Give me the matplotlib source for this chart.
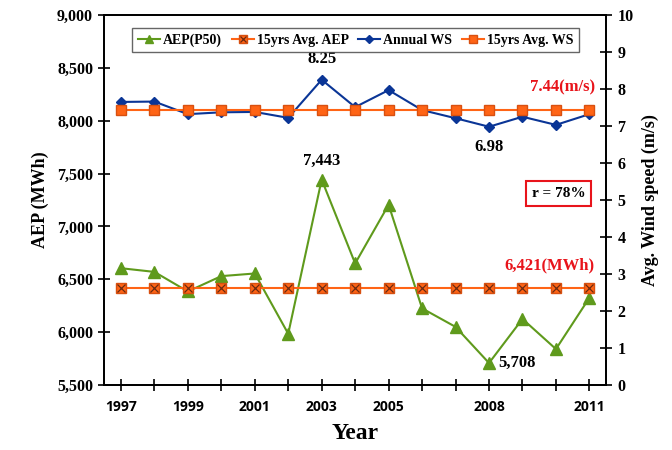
import matplotlib.pyplot as plt
from matplotlib.legend_handler import HandlerTuple

# yearly energy production and wind speed
years = [1997, 1998, 1999, 2000, 2001, 2002, 2003, 2004, 2005, 2006, 2007, 2008, 2009, 2010, 2011]
aep_p50 = [6605, 6570, 6385, 6530, 6555, 5985, 7443, 6650, 7205, 6225, 6050, 5708, 6125, 5840, 6325]
avg_aep = 6421
annual_ws = [7.65, 7.66, 7.32, 7.37, 7.38, 7.22, 8.25, 7.51, 7.97, 7.43, 7.21, 6.98, 7.25, 7.03, 7.32]
avg_ws = 7.44
r_value = 78
shown_years = [1997, 1999, 2001, 2003, 2005, 2008, 2011]

green = '#5f9a1c'
orange = '#ff6415'
blue = '#0a3596'
red = '#e8141b'

plt.rcParams['font.family'] = 'Liberation Serif'
plt.rcParams['font.weight'] = 'bold'
plt.rcParams['axes.labelweight'] = 'bold'

fig = plt.figure(figsize=(6.72, 4.5), dpi=100)
ax1 = fig.add_axes([0.155, 0.1444, 0.747, 0.8223])
ax2 = ax1.twinx()

# energy on the left axis
l_aep, = ax1.plot(years, aep_p50, color=green, lw=1.5, marker='^', ms=8, zorder=3)
avg_aep_line = [avg_aep] * len(years)
l_avg_aep, = ax1.plot(years, avg_aep_line, color=orange, lw=1.5, marker='s', ms=6.5,
                      markeredgecolor='#d85010', zorder=4)
l_avg_aep_x, = ax1.plot(years, avg_aep_line, ls='none', marker='x', ms=5.5,
                        color='#6b2a10', markeredgewidth=0.9, zorder=5)

# wind speed on the right axis
l_ws, = ax2.plot(years, annual_ws, color=blue, lw=1.5, marker='D', ms=5.5, zorder=3)
l_avg_ws, = ax2.plot(years, [avg_ws] * len(years), color=orange, lw=1.5, marker='s', ms=7,
                     markeredgecolor='#d85010', zorder=4)

ax1.set_xlim(1996.5, 2011.5)
ax1.set_ylim(5500, 9000)
ax2.set_ylim(0, 10)

ax1.set_xticks(years)
ax1.set_xticklabels([str(y) if y in shown_years else '' for y in years],
                    fontfamily='Open Sans', fontweight='bold', fontsize=10)
ax1.set_yticks(range(5500, 9001, 500))
ax1.set_yticklabels([f'{v:,}' for v in range(5500, 9001, 500)], fontsize=11.5)
ax2.set_yticks(range(0, 11))
ax2.set_yticklabels([str(v) for v in range(0, 11)], fontsize=11.5)

for ax in (ax1, ax2):
    ax.tick_params(direction='inout', length=9, width=1.2, colors='black')
    for sp in ax.spines.values():
        sp.set_linewidth(1.3)
ax1.tick_params(axis='x', pad=6)

ax1.set_xlabel('Year', fontsize=17, labelpad=7)
ax1.set_ylabel('AEP (MWh)', fontsize=13, labelpad=6)
ax2.set_ylabel('Avg. Wind speed (m/s)', fontsize=13, labelpad=6)

# value labels
i_max_ws = annual_ws.index(max(annual_ws))
i_min_ws = annual_ws.index(min(annual_ws))
i_max_aep = aep_p50.index(max(aep_p50))
i_min_aep = aep_p50.index(min(aep_p50))
ax2.annotate(f'{annual_ws[i_max_ws]:.2f}', (years[i_max_ws], annual_ws[i_max_ws]),
             xytext=(0, 9), textcoords='offset points', ha='center', va='bottom', fontsize=12)
ax2.annotate(f'{annual_ws[i_min_ws]:.2f}', (years[i_min_ws], annual_ws[i_min_ws]),
             xytext=(0, -9), textcoords='offset points', ha='center', va='top', fontsize=12)
ax1.annotate(f'{aep_p50[i_max_aep]:,}', (years[i_max_aep], aep_p50[i_max_aep]),
             xytext=(0, 8), textcoords='offset points', ha='center', va='bottom', fontsize=12)
ax1.annotate(f'{aep_p50[i_min_aep]:,}', (years[i_min_aep], aep_p50[i_min_aep]),
             xytext=(7, 0), textcoords='offset points', ha='left', va='center', fontsize=12)
ax2.annotate(f'{avg_ws:.2f}(m/s)', (years[-1], avg_ws), xytext=(4, 10),
             textcoords='offset points', ha='right', va='bottom', fontsize=12, color=red)
ax1.annotate(f'{avg_aep:,}(MWh)', (years[-1], avg_aep), xytext=(4, 10),
             textcoords='offset points', ha='right', va='bottom', fontsize=12, color=red)
ax1.text(0.905, 0.517, f'r = {r_value}%', transform=ax1.transAxes, ha='center', va='center',
         fontsize=11, bbox=dict(boxstyle='square,pad=0.4', fc='white', ec=red, lw=1.5))

handles = [l_aep, (l_avg_aep, l_avg_aep_x), l_ws, l_avg_ws]
labels = ['AEP(P50)', '15yrs Avg. AEP', 'Annual WS', '15yrs Avg. WS']
leg = ax2.legend(handles, labels, loc='center', bbox_to_anchor=(0.501, 0.932), ncol=4,
                 handler_map={tuple: HandlerTuple(ndivide=1)}, fontsize=10,
                 handlelength=1.6, handletextpad=0.2, columnspacing=0.7,
                 frameon=True, fancybox=False, borderpad=0.4, markerscale=0.8)
leg.get_frame().set_edgecolor('#404040')
leg.get_frame().set_linewidth(1.0)

fig.savefig('out.png', dpi=100)
